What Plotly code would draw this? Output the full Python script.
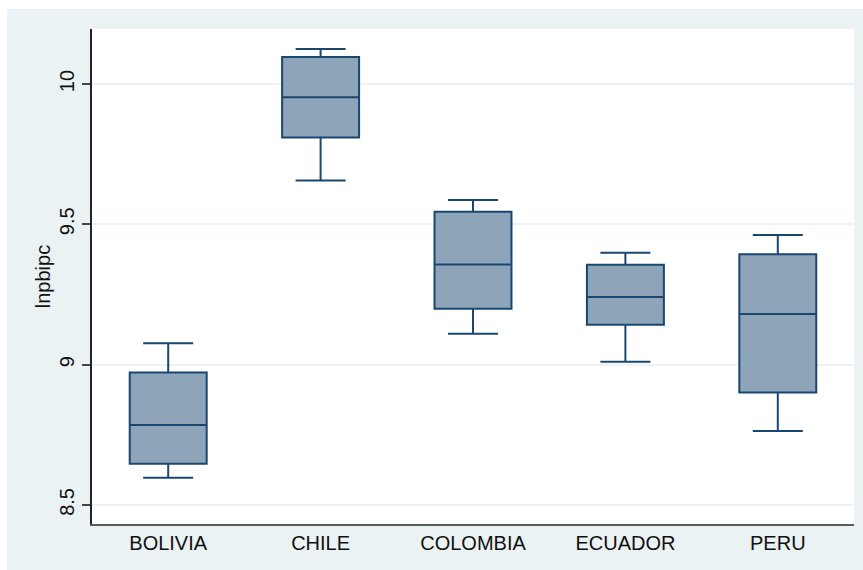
import plotly.graph_objects as go

# Summary statistics of lnpbipc by country
countries = ["BOLIVIA", "CHILE", "COLOMBIA", "ECUADOR", "PERU"]
lower_whisker = [8.597, 9.656, 9.110, 9.010, 8.763]
q1 = [8.647, 9.809, 9.199, 9.142, 8.901]
median = [8.785, 9.953, 9.357, 9.241, 9.180]
q3 = [8.972, 10.096, 9.545, 9.356, 9.393]
upper_whisker = [9.076, 10.125, 9.587, 9.399, 9.462]

y_ticks = [8.5, 9, 9.5, 10]
y_tick_labels = ["8.5", "9", "9.5", "10"]

W, H = 863, 570
L, R, T, B = 92, 9, 29, 46
pw, ph = W - L - R, H - T - B

NAVY = "#1a476f"
FILL = "#8ea4b9"
BG = "#eaf2f3"
FONT = "Liberation Sans, Arial, sans-serif"
FS = 20

fig = go.Figure()
fig.add_trace(go.Box(
    x=countries,
    q1=q1, median=median, q3=q3,
    lowerfence=lower_whisker, upperfence=upper_whisker,
    width=0.505,
    fillcolor=FILL,
    line=dict(color=NAVY, width=2),
    whiskerwidth=0.65,
    boxpoints=False,
    showlegend=False,
))

# Outer graph region (light tint around the white plot area)
def px_x(v):
    return (v - L) / pw

def px_y(v):
    return (H - B - v) / ph

fig.add_shape(type="rect", xref="paper", yref="paper",
              x0=px_x(7), x1=px_x(W), y0=px_y(H), y1=px_y(9),
              fillcolor=BG, line=dict(width=0), layer="below")
fig.add_shape(type="rect", xref="paper", yref="paper",
              x0=0, x1=1, y0=0, y1=1,
              fillcolor="white", line=dict(width=0), layer="below")

fig.update_layout(
    width=W, height=H,
    margin=dict(l=L, r=R, t=T, b=B),
    paper_bgcolor="white",
    plot_bgcolor="rgba(0,0,0,0)",
    font=dict(family=FONT, size=FS, color="#111111"),
    xaxis=dict(
        type="category",
        range=[-0.5, 4.5],
        showline=True, linecolor="#5a5a5a", linewidth=2,
        ticks="", showgrid=False, zeroline=False,
        tickfont=dict(size=FS, color="#111111"),
    ),
    yaxis=dict(
        range=[8.432, 10.196],
        tickvals=y_ticks, ticktext=y_tick_labels,
        tickangle=-90,
        ticks="outside", ticklen=8, tickwidth=1.5, tickcolor="#444444",
        showline=True, linecolor="#222222", linewidth=1.5,
        showgrid=True, gridcolor=BG, gridwidth=2,
        zeroline=False,
        tickfont=dict(size=FS, color="#111111"),
        title=dict(text="lnpbipc", font=dict(size=FS, color="#111111"), standoff=0),
    ),
)

fig.write_html("out.html")
